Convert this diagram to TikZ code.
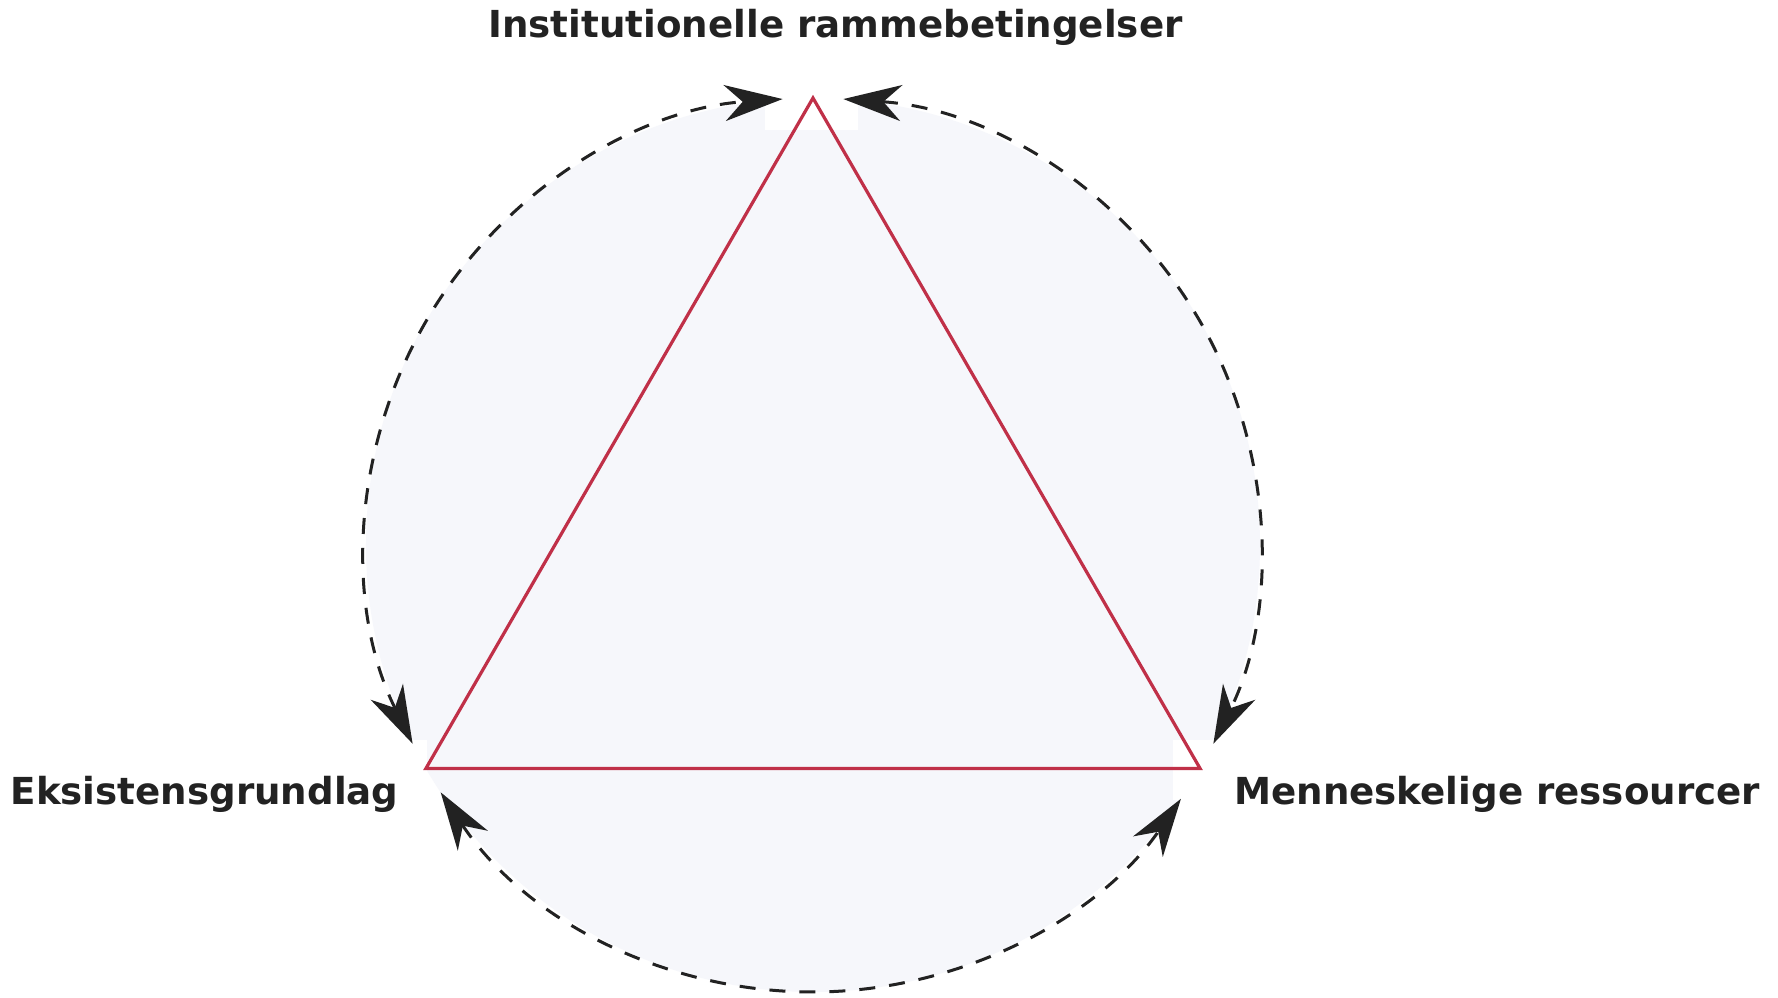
\documentclass[tikz,border=0pt]{standalone}
\usepackage{fontspec}
\setmainfont{DejaVu Sans}
\usetikzlibrary{arrows.meta}
\definecolor{tri}{RGB}{192,48,72}
\definecolor{ink}{RGB}{34,34,34}
\definecolor{disk}{RGB}{246,247,251}
\tikzset{
  lbl/.style={font=\fontsize{18.6}{22}\selectfont\bfseries, text=ink, inner sep=0pt},
  arcline/.style={draw=ink, line width=1.5pt, dash pattern=on 8pt off 7pt,
    {Stealth[length=29pt,width=18pt,inset=9pt]}-{Stealth[length=29pt,width=18pt,inset=9pt]}},
  triline/.style={draw=tri, line width=1.6pt, line join=miter},
}
\begin{document}
\begin{tikzpicture}[x=0.5pt,y=0.5pt]
\useasboundingbox[fill=white] (-813,-452) rectangle (965,545);
% disk
\fill[disk] (0,0) circle[radius=447];
% white patches around vertices
\fill[white] (-48,485) rectangle (45,415);
\fill[white] (-448,-195) rectangle (-386,-255);
\fill[white] (360,-195) rectangle (449,-255);
% vertices
\coordinate (A) at (90:447);
\coordinate (B) at (210:447);
\coordinate (C) at (330:447);
\coordinate (center) at (0,0);
% triangle
\draw[triline] (A) -- (B) -- (C) -- cycle;
% dashed arcs
\draw[arcline] (206.4:447) arc[start angle=206.4, end angle=93.9, radius=447];
\draw[arcline] (86.1:447) arc[start angle=86.1, end angle=-26.4, radius=447];
\draw[arcline] (213.6:447) arc[start angle=213.6, end angle=325.4, radius=447];
% labels
\node[lbl] (top) at (22.5,518) {Institutionelle rammebetingelser};
\node[lbl, anchor=east] (left) at (-414,-249) {Eksistensgrundlag};
\node[lbl, anchor=west] (right) at (421,-249) {Menneskelige ressourcer};
\end{tikzpicture}
\end{document}
